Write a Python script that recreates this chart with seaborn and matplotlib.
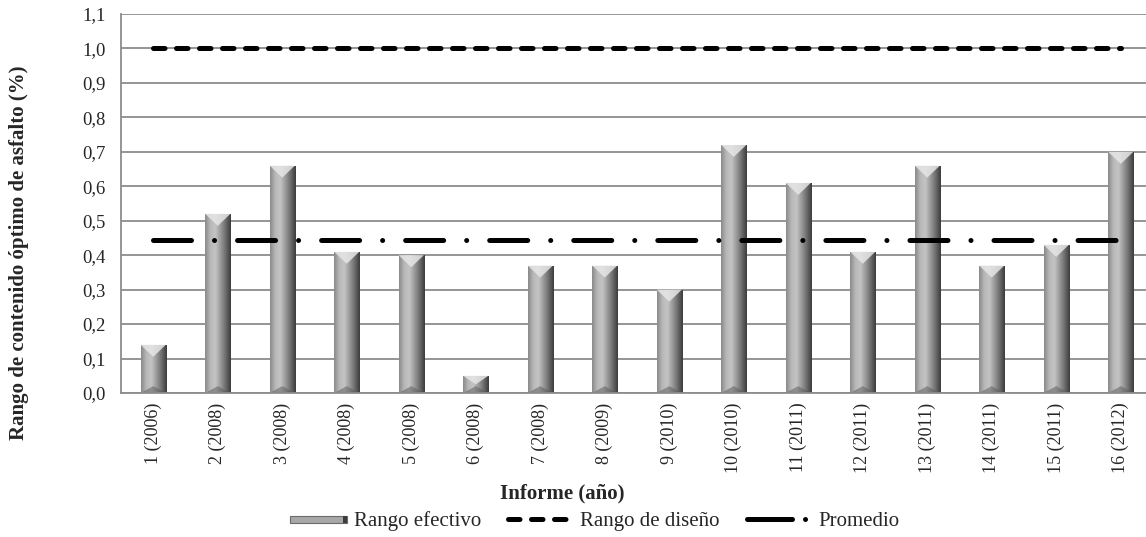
import numpy as np
import pandas as pd
import seaborn as sns
import matplotlib.pyplot as plt
from matplotlib.colors import LinearSegmentedColormap
from matplotlib.patches import Polygon, Rectangle
from matplotlib.lines import Line2D
from matplotlib.legend_handler import HandlerBase

# data
informes = ["1 (2006)", "2 (2008)", "3 (2008)", "4 (2008)", "5 (2008)", "6 (2008)",
            "7 (2008)", "8 (2009)", "9 (2010)", "10 (2010)", "11 (2011)", "12 (2011)",
            "13 (2011)", "14 (2011)", "15 (2011)", "16 (2012)"]
rango_efectivo = [0.14, 0.52, 0.66, 0.41, 0.40, 0.05, 0.37, 0.37, 0.30, 0.72,
                  0.61, 0.41, 0.66, 0.37, 0.43, 0.70]
rango_diseno = 1.0
promedio = float(np.mean(rango_efectivo))
y_ticks = [0.0, 0.1, 0.2, 0.3, 0.4, 0.5, 0.6, 0.7, 0.8, 0.9, 1.0, 1.1]
y_ticklabels = ["0,0", "0,1", "0,2", "0,3", "0,4", "0,5", "0,6", "0,7", "0,8", "0,9", "1,0", "1,1"]

df = pd.DataFrame({"Informe": informes, "Rango": rango_efectivo})

sns.set_style("white")
plt.rcParams["font.family"] = ["Liberation Serif", "DejaVu Serif"]

fig = plt.figure(figsize=(11.46, 5.37), dpi=100)
ax = fig.add_axes([121 / 1146, 144 / 537, 1032 / 1146, 379 / 537])

grid_col = "#8c8c8c"

sns.barplot(data=df, x="Informe", y="Rango", color="#909090", width=0.39,
            edgecolor="none", ax=ax, zorder=2)

# cylinder-like shading for each bar
shade = LinearSegmentedColormap.from_list(
    "cyl", ["#8a8a8a", "#b8b8b8", "#c4c4c4", "#9a9a9a", "#6e6e6e", "#3c3c3c"])
grad = np.linspace(0, 1, 64).reshape(1, -1)
for p in list(ax.patches):
    x0, w, h = p.get_x(), p.get_width(), p.get_height()
    im = ax.imshow(grad, cmap=shade, aspect="auto", extent=(x0, x0 + w, 0, h),
                   zorder=2.1, interpolation="bicubic")
    im.set_clip_path(p)
    bev = min(0.035, h * 0.5)
    ax.add_patch(Polygon([(x0, h), (x0 + w, h), (x0 + w / 2, h - bev)],
                         closed=True, facecolor="#e6e6e6", edgecolor="none",
                         alpha=0.85, zorder=2.2))
    ax.add_patch(Polygon([(x0, 0), (x0 + w, 0), (x0 + w / 2, min(0.02, h * 0.4))],
                         closed=True, facecolor="#5a5a5a", edgecolor="none",
                         alpha=0.5, zorder=2.2))

dash_style = (0, (2.3, 2.3))
dashdot_style = (0, (7.6, 4.6, 0.01, 4.6))
xs = np.arange(len(informes))
ax.plot(xs, [rango_diseno] * len(xs), color="black", lw=3.6,
        linestyle=dash_style, dash_capstyle="round", zorder=4)
ax.plot(xs, [promedio] * len(xs), color="black", lw=3.6,
        linestyle=dashdot_style, dash_capstyle="round", zorder=4)

ax.set_xlim(-0.5, len(informes) - 0.5)
ax.set_ylim(0, 1.1)
ax.set_yticks(y_ticks)
ax.set_yticklabels(y_ticklabels, fontsize=13.5)
ax.yaxis.grid(True, color=grid_col, lw=1.3, zorder=0)
ax.set_axisbelow(True)

ax.set_xticks(xs)
ax.set_xticklabels(informes, rotation=90, fontsize=13)
ax.set_xticks(np.arange(-0.5, len(informes)), minor=True)
ax.tick_params(axis="x", which="major", length=0, pad=7)
ax.tick_params(axis="x", which="minor", length=6, color=grid_col, width=1.3, direction="out")
ax.tick_params(axis="y", length=6, color=grid_col, width=1.3, direction="out", pad=5)

for s in ["top", "right"]:
    ax.spines[s].set_visible(False)
for s in ["left", "bottom"]:
    ax.spines[s].set_color(grid_col)
    ax.spines[s].set_linewidth(1.3)

ax.set_xlabel("Informe (año)", fontsize=15, fontweight="bold")
ax.xaxis.set_label_coords(0.428, -0.24)
ax.set_ylabel("Rango de contenido óptimo de asfalto (%)", fontsize=15, fontweight="bold")
ax.yaxis.set_label_coords(-0.089, 0.37)


class BarHandler(HandlerBase):
    def create_artists(self, legend, orig, xd, yd, width, height, fontsize, trans):
        bw = width * 0.88
        x0 = xd + width - bw
        r1 = Rectangle((x0, yd + height * 0.2), bw, height * 0.5,
                       facecolor="#a8a8a8", edgecolor="#6a6a6a", lw=0.8, transform=trans)
        r2 = Rectangle((x0 + bw * 0.93, yd + height * 0.2), bw * 0.07, height * 0.5,
                       facecolor="#3c3c3c", edgecolor="none", transform=trans)
        return [r1, r2]


h_bar = Rectangle((0, 0), 1, 1)
h_dis = Line2D([], [], color="black", lw=3.6, linestyle=dash_style, dash_capstyle="round")
h_pro = Line2D([], [], color="black", lw=3.6, linestyle=(0, (9.0, 2.6, 0.01, 5)),
               dash_capstyle="round")
fig.legend([h_bar, h_dis, h_pro], ["Rango efectivo", "Rango de diseño", "Promedio"],
           handler_map={Rectangle: BarHandler()}, loc="center",
           bbox_to_anchor=(591 / 1146, 1 - 521 / 537), ncol=3, frameon=False,
           fontsize=15, handlelength=3.1, columnspacing=1.3, handletextpad=0.35)

fig.savefig("out.png", dpi=100)
